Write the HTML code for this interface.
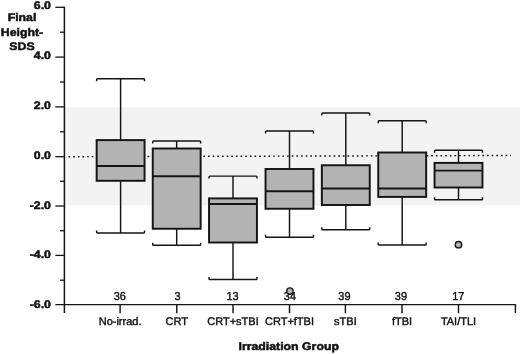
<!DOCTYPE html>
<html><head><meta charset="utf-8"><title>Final Height SDS by Irradiation Group</title>
<style>
html,body{margin:0;padding:0;background:#fff;}
body{width:520px;height:354px;overflow:hidden;}
svg{display:block;will-change:transform;opacity:0.999;}
text{text-rendering:geometricPrecision;font-family:"Liberation Sans",Arial,sans-serif;fill:#111;}
.b{font-weight:bold;font-size:10.95px;stroke:#111;stroke-width:0.5px;}
.n{font-size:11.5px !important;}
.r{font-size:11px;stroke:#111;stroke-width:0.4px;}
.r.n{font-size:11.5px;}
</style></head><body>
<svg width="520" height="354" viewBox="0 0 520 354">
<rect width="520" height="354" fill="#fff"/>
<rect x="65" y="107.5" width="455" height="98.0" fill="#f3f3f3"/>
<line x1="68.5" y1="156.7" x2="511" y2="155.5" stroke="#151515" stroke-width="1.45" stroke-dasharray="1.7 2.95"/>
<path d="M120.60 78.75V140.10M120.60 180.80V232.90" stroke="#151515" stroke-width="1.45" fill="none"/>
<path d="M96.65 81.25V79.55Q96.65 78.75 97.45 78.75H143.75Q144.55 78.75 144.55 79.55V81.25" stroke="#151515" stroke-width="1.45" fill="none"/>
<path d="M96.65 230.40V232.10Q96.65 232.90 97.45 232.90H143.75Q144.55 232.90 144.55 232.10V230.40" stroke="#151515" stroke-width="1.45" fill="none"/>
<rect x="96.65" y="140.10" width="47.90" height="40.70" fill="#b3b3b3" stroke="#151515" stroke-width="1.95"/>
<line x1="96.65" y1="165.90" x2="144.55" y2="165.90" stroke="#151515" stroke-width="1.95"/>
<path d="M176.70 141.00V148.50M176.70 228.75V245.25" stroke="#151515" stroke-width="1.45" fill="none"/>
<path d="M152.75 143.50V141.80Q152.75 141.00 153.55 141.00H199.85Q200.65 141.00 200.65 141.80V143.50" stroke="#151515" stroke-width="1.45" fill="none"/>
<path d="M152.75 242.75V244.45Q152.75 245.25 153.55 245.25H199.85Q200.65 245.25 200.65 244.45V242.75" stroke="#151515" stroke-width="1.45" fill="none"/>
<rect x="152.75" y="148.50" width="47.90" height="80.25" fill="#b3b3b3" stroke="#151515" stroke-width="1.95"/>
<line x1="152.75" y1="176.25" x2="200.65" y2="176.25" stroke="#151515" stroke-width="1.95"/>
<path d="M233.00 176.10V198.40M233.00 242.50V279.50" stroke="#151515" stroke-width="1.45" fill="none"/>
<path d="M209.05 178.60V176.90Q209.05 176.10 209.85 176.10H256.15Q256.95 176.10 256.95 176.90V178.60" stroke="#151515" stroke-width="1.45" fill="none"/>
<path d="M209.05 277.00V278.70Q209.05 279.50 209.85 279.50H256.15Q256.95 279.50 256.95 278.70V277.00" stroke="#151515" stroke-width="1.45" fill="none"/>
<rect x="209.05" y="198.40" width="47.90" height="44.10" fill="#b3b3b3" stroke="#151515" stroke-width="1.95"/>
<line x1="209.05" y1="204.00" x2="256.95" y2="204.00" stroke="#151515" stroke-width="1.95"/>
<path d="M289.50 130.90V169.00M289.50 208.75V237.25" stroke="#151515" stroke-width="1.45" fill="none"/>
<path d="M265.55 133.40V131.70Q265.55 130.90 266.35 130.90H312.65Q313.45 130.90 313.45 131.70V133.40" stroke="#151515" stroke-width="1.45" fill="none"/>
<path d="M265.55 234.75V236.45Q265.55 237.25 266.35 237.25H312.65Q313.45 237.25 313.45 236.45V234.75" stroke="#151515" stroke-width="1.45" fill="none"/>
<rect x="265.55" y="169.00" width="47.90" height="39.75" fill="#b3b3b3" stroke="#151515" stroke-width="1.95"/>
<line x1="265.55" y1="191.25" x2="313.45" y2="191.25" stroke="#151515" stroke-width="1.95"/>
<path d="M345.80 112.90V165.25M345.80 205.00V229.75" stroke="#151515" stroke-width="1.45" fill="none"/>
<path d="M321.85 115.40V113.70Q321.85 112.90 322.65 112.90H368.95Q369.75 112.90 369.75 113.70V115.40" stroke="#151515" stroke-width="1.45" fill="none"/>
<path d="M321.85 227.25V228.95Q321.85 229.75 322.65 229.75H368.95Q369.75 229.75 369.75 228.95V227.25" stroke="#151515" stroke-width="1.45" fill="none"/>
<rect x="321.85" y="165.25" width="47.90" height="39.75" fill="#b3b3b3" stroke="#151515" stroke-width="1.95"/>
<line x1="321.85" y1="188.50" x2="369.75" y2="188.50" stroke="#151515" stroke-width="1.95"/>
<path d="M402.20 120.75V152.50M402.20 196.90V245.00" stroke="#151515" stroke-width="1.45" fill="none"/>
<path d="M378.25 123.25V121.55Q378.25 120.75 379.05 120.75H425.35Q426.15 120.75 426.15 121.55V123.25" stroke="#151515" stroke-width="1.45" fill="none"/>
<path d="M378.25 242.50V244.20Q378.25 245.00 379.05 245.00H425.35Q426.15 245.00 426.15 244.20V242.50" stroke="#151515" stroke-width="1.45" fill="none"/>
<rect x="378.25" y="152.50" width="47.90" height="44.40" fill="#b3b3b3" stroke="#151515" stroke-width="1.95"/>
<line x1="378.25" y1="188.50" x2="426.15" y2="188.50" stroke="#151515" stroke-width="1.95"/>
<path d="M458.50 150.25V162.90M458.50 187.50V199.75" stroke="#151515" stroke-width="1.45" fill="none"/>
<path d="M434.55 152.75V151.05Q434.55 150.25 435.35 150.25H481.65Q482.45 150.25 482.45 151.05V152.75" stroke="#151515" stroke-width="1.45" fill="none"/>
<path d="M434.55 197.25V198.95Q434.55 199.75 435.35 199.75H481.65Q482.45 199.75 482.45 198.95V197.25" stroke="#151515" stroke-width="1.45" fill="none"/>
<rect x="434.55" y="162.90" width="47.90" height="24.60" fill="#b3b3b3" stroke="#151515" stroke-width="1.95"/>
<line x1="434.55" y1="170.60" x2="482.45" y2="170.60" stroke="#151515" stroke-width="1.95"/>
<path d="M64.4 6.7V313" stroke="#151515" stroke-width="1.5" fill="none"/>
<path d="M55.3 304.6H516" stroke="#151515" stroke-width="1.15" fill="none"/>
<path d="M515.4 304.1V313.2" stroke="#151515" stroke-width="1.4" fill="none"/>
<line x1="55.3" y1="7.3" x2="64.4" y2="7.3" stroke="#151515" stroke-width="1.3"/>
<line x1="60" y1="32.2" x2="64.4" y2="32.2" stroke="#151515" stroke-width="1.3"/>
<line x1="55.3" y1="57.1" x2="64.4" y2="57.1" stroke="#151515" stroke-width="1.3"/>
<line x1="60" y1="82.0" x2="64.4" y2="82.0" stroke="#151515" stroke-width="1.3"/>
<line x1="55.3" y1="106.9" x2="64.4" y2="106.9" stroke="#151515" stroke-width="1.3"/>
<line x1="60" y1="131.8" x2="64.4" y2="131.8" stroke="#151515" stroke-width="1.3"/>
<line x1="55.3" y1="156.7" x2="64.4" y2="156.7" stroke="#151515" stroke-width="1.3"/>
<line x1="60" y1="181.3" x2="64.4" y2="181.3" stroke="#151515" stroke-width="1.3"/>
<line x1="55.3" y1="206.0" x2="64.4" y2="206.0" stroke="#151515" stroke-width="1.3"/>
<line x1="60" y1="230.7" x2="64.4" y2="230.7" stroke="#151515" stroke-width="1.3"/>
<line x1="55.3" y1="255.4" x2="64.4" y2="255.4" stroke="#151515" stroke-width="1.3"/>
<line x1="60" y1="280.2" x2="64.4" y2="280.2" stroke="#151515" stroke-width="1.3"/>
<line x1="120.1" y1="304.6" x2="120.1" y2="313.3" stroke="#151515" stroke-width="1.45"/>
<line x1="176.8" y1="304.6" x2="176.8" y2="313.3" stroke="#151515" stroke-width="1.45"/>
<line x1="233.0" y1="304.6" x2="233.0" y2="313.3" stroke="#151515" stroke-width="1.45"/>
<line x1="289.5" y1="304.6" x2="289.5" y2="313.3" stroke="#151515" stroke-width="1.45"/>
<line x1="345.4" y1="304.6" x2="345.4" y2="313.3" stroke="#151515" stroke-width="1.45"/>
<line x1="402.0" y1="304.6" x2="402.0" y2="313.3" stroke="#151515" stroke-width="1.45"/>
<line x1="458.5" y1="304.6" x2="458.5" y2="313.3" stroke="#151515" stroke-width="1.45"/>
<text transform="translate(50.9 9.4) scale(1.124 1)" text-anchor="end" class="b">6.0</text>
<text transform="translate(50.9 59.2) scale(1.124 1)" text-anchor="end" class="b">4.0</text>
<text transform="translate(50.9 109.0) scale(1.124 1)" text-anchor="end" class="b">2.0</text>
<text transform="translate(50.9 158.8) scale(1.124 1)" text-anchor="end" class="b">0.0</text>
<text transform="translate(50.9 208.6) scale(1.124 1)" text-anchor="end" class="b">-2.0</text>
<text transform="translate(50.9 258.4) scale(1.124 1)" text-anchor="end" class="b">-4.0</text>
<text transform="translate(50.9 308.2) scale(1.124 1)" text-anchor="end" class="b">-6.0</text>
<text transform="translate(22 20.8) scale(1.124 1)" text-anchor="middle" class="b">Final</text>
<text transform="translate(22 35.7) scale(1.124 1)" text-anchor="middle" class="b">Height-</text>
<text transform="translate(22 49.8) scale(1.124 1)" text-anchor="middle" class="b">SDS</text>
<text transform="translate(119.8 300.1) scale(0.95 1)" text-anchor="middle" class="r n">36</text>
<text x="120.1" y="325.4" text-anchor="middle" class="r">No-irrad.</text>
<text transform="translate(177.5 300.1) scale(0.95 1)" text-anchor="middle" class="r n">3</text>
<text x="176.8" y="325.4" text-anchor="middle" class="r">CRT</text>
<text transform="translate(232.5 300.1) scale(0.95 1)" text-anchor="middle" class="r n">13</text>
<text x="233.0" y="325.4" text-anchor="middle" class="r">CRT+sTBI</text>
<text transform="translate(289.9 300.1) scale(0.95 1)" text-anchor="middle" class="r n">34</text>
<text x="289.5" y="325.4" text-anchor="middle" class="r">CRT+fTBI</text>
<text transform="translate(344.4 300.1) scale(0.95 1)" text-anchor="middle" class="r n">39</text>
<text x="345.4" y="325.4" text-anchor="middle" class="r">sTBI</text>
<text transform="translate(400.9 300.1) scale(0.95 1)" text-anchor="middle" class="r n">39</text>
<text x="402.0" y="325.4" text-anchor="middle" class="r">fTBI</text>
<text transform="translate(458.2 300.1) scale(0.95 1)" text-anchor="middle" class="r n">17</text>
<text x="458.5" y="325.4" text-anchor="middle" class="r">TAI/TLI</text>
<text transform="translate(288.7 350.3) scale(1.124 1)" text-anchor="middle" class="b">Irradiation Group</text>
<circle cx="289.9" cy="291.1" r="3.2" fill="#b4b4b4" stroke="#151515" stroke-width="1.4"/>
<circle cx="458.5" cy="244.7" r="3.2" fill="#b4b4b4" stroke="#151515" stroke-width="1.4"/>
</svg>
</body></html>
